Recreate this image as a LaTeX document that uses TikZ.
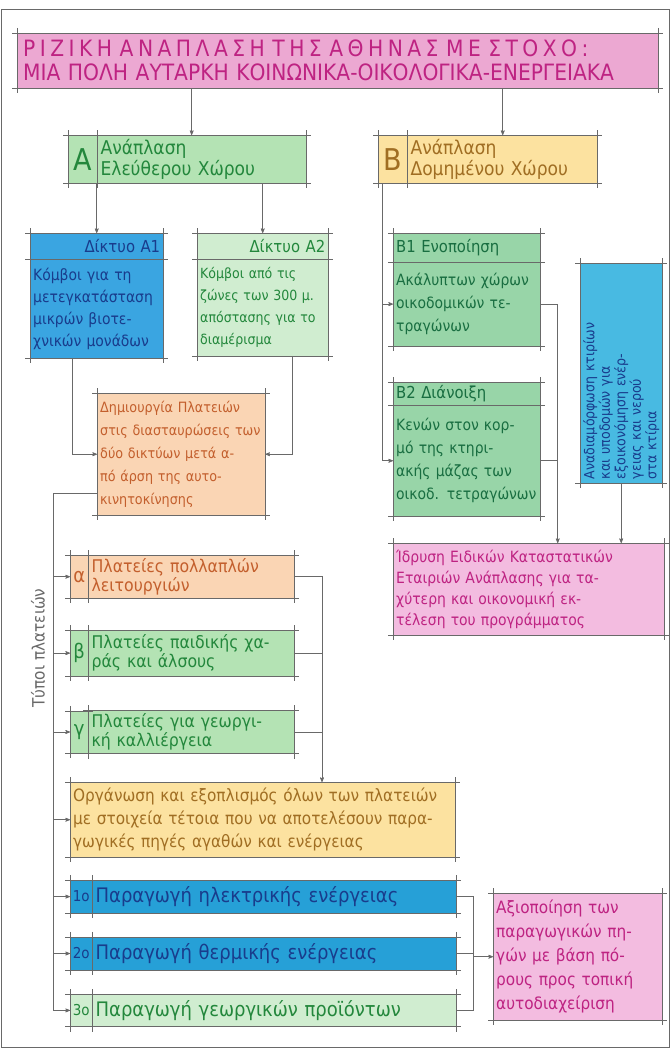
\documentclass[tikz,border=0pt]{standalone}
\usepackage{fontspec}
\setmainfont{DejaVu Sans Condensed}
\usetikzlibrary{arrows,positioning,calc}
\definecolor{linegray}{RGB}{105,105,105}
\definecolor{pinkfill}{RGB}{236,168,210}
\definecolor{lightpink}{RGB}{243,188,224}
\definecolor{pinktext}{RGB}{190,35,130}
\definecolor{greenfill}{RGB}{180,227,180}
\definecolor{palegreen}{RGB}{208,237,208}
\definecolor{greentext}{RGB}{35,135,60}
\definecolor{bgreenfill}{RGB}{152,213,168}
\definecolor{bgreentext}{RGB}{25,110,65}
\definecolor{bluefill}{RGB}{58,165,225}
\definecolor{bluetext}{RGB}{25,60,140}
\definecolor{vbluefill}{RGB}{72,186,226}
\definecolor{orangefill}{RGB}{250,213,180}
\definecolor{orangetext}{RGB}{195,95,45}
\definecolor{yellowfill}{RGB}{252,226,160}
\definecolor{yellowtext}{RGB}{160,110,35}
\definecolor{stripblue}{RGB}{38,160,215}
\definecolor{stripgreen}{RGB}{196,232,196}
\tikzset{
    %Define standard arrow tip
    >=stealth',
    %Define style for boxes
    sk/.style={
           rectangle,
           inner sep=3pt,
           align=left,
           anchor=north west},
    pinkbox/.style={sk, fill=pinkfill, text=pinktext},
    lpinkbox/.style={sk, fill=lightpink, text=pinktext},
    greenbox/.style={sk, fill=greenfill, text=greentext},
    palebox/.style={sk, fill=palegreen, text=greentext},
    bgreenbox/.style={sk, fill=bgreenfill, text=bgreentext},
    bluebox/.style={sk, fill=bluefill, text=bluetext},
    orangebox/.style={sk, fill=orangefill, text=orangetext},
    yellowbox/.style={sk, fill=yellowfill, text=yellowtext},
    stripbox/.style={sk, fill=stripblue, text=bluetext},
    letterbox/.style={align=center},
    % Define arrow style
    conn/.style={draw=linegray, line width=0.7pt},
    pil/.style={->, conn},
    skline/.style={draw=linegray, line width=0.6pt}
}
\newcommand{\skframe}[1]{%
  \draw[skline] ([xshift=-5pt]#1.north west) -- ([xshift=5pt]#1.north east);
  \draw[skline] ([xshift=-5pt]#1.south west) -- ([xshift=5pt]#1.south east);
  \draw[skline] ([yshift=5pt]#1.north west) -- ([yshift=-5pt]#1.south west);
  \draw[skline] ([yshift=5pt]#1.north east) -- ([yshift=-5pt]#1.south east);}
\newcommand{\fs}[2]{\fontsize{#1}{#2}\selectfont}

\begin{document}
\begin{tikzpicture}[x=1pt,y=-1pt]
\useasboundingbox (0,0) rectangle (671,1049);
\draw[linegray, line width=0.8pt] (1,9) rectangle (669,1047);

% top
\node[pinkbox, text width=629pt, inner xsep=6pt, minimum height=55pt, font=\fs{22.5}{24}] (title) at (17,33)
  {{\addfontfeature{LetterSpace=20}ΡΙΖΙΚΗ ΑΝΑΠΛΑΣΗ ΤΗΣ ΑΘΗΝΑΣ ΜΕ ΣΤΟΧΟ:}\\ΜΙΑ ΠΟΛΗ ΑΥΤΑΡΚΗ ΚΟΙΝΩΝΙΚΑ-ΟΙΚΟΛΟΓΙΚΑ-ΕΝΕΡΓΕΙΑΚΑ};
\node[greenbox, letterbox, text width=23pt, minimum height=48pt, font=\fs{30}{30}] (Alet) at (68,135) {A};
\node[greenbox, text width=202pt, minimum height=48pt, font=\fs{19}{21}, right=0pt of Alet] (Atxt) {Ανάπλαση\\Ελεύθερου Χώρου};
\node[yellowbox, letterbox, text width=23pt, minimum height=48pt, font=\fs{30}{30}] (Blet) at (378,135) {B};
\node[yellowbox, text width=183pt, minimum height=48pt, font=\fs{19}{21}, right=0pt of Blet] (Btxt) {Ανάπλαση\\Δομημένου Χώρου};

% left column
\node[bluebox, align=right, text width=127pt, minimum height=26pt, font=\fs{16.5}{18}] (A1h) at (30,233) {Δίκτυο Α1};
\node[bluebox, text width=127pt, minimum height=98pt, font=\fs{15.5}{22}, below=0pt of A1h] (A1b)
  {Κόμβοι για τη\\μετεγκατάσταση\\μικρών βιοτε-\\χνικών μονάδων};
\node[palebox, align=right, text width=125pt, minimum height=26pt, font=\fs{16.5}{18}] (A2h) at (197,233) {Δίκτυο Α2};
\node[palebox, text width=125pt, minimum height=96pt, font=\fs{14}{22}, below=0pt of A2h] (A2b)
  {Κόμβοι από τις\\ζώνες των 300 μ.\\απόστασης για το\\διαμέρισμα};
\node[orangebox, text width=162pt, minimum height=122pt, font=\fs{14.2}{23}] (plat) at (97,393)
  {Δημιουργία Πλατειών\\στις διασταυρώσεις των\\δύο δικτύων μετά α-\\πό άρση της αυτο-\\κινητοκίνησης};

% right column
\node[bgreenbox, text width=141pt, minimum height=29pt, font=\fs{16.5}{18}] (B1h) at (393,233) {Β1 Ενοποίηση};
\node[bgreenbox, text width=141pt, minimum height=83pt, font=\fs{15.5}{23}, below=0pt of B1h] (B1b)
  {Ακάλυπτων χώρων\\οικοδομικών τε-\\τραγώνων};
\node[bgreenbox, text width=141pt, minimum height=22pt, font=\fs{16.5}{18}] (B2h) at (393,382) {Β2 Διάνοιξη};
\node[bgreenbox, text width=141pt, minimum height=111pt, font=\fs{15.5}{23}, below=0pt of B2h] (B2b)
  {Κενών στον κορ-\\μό της κτηρι-\\ακής μάζας των\\οικοδ. τετραγώνων};
\node[sk, fill=vbluefill, minimum width=82pt, minimum height=220pt] (vblue) at (580,263) {};
\node[rotate=90, text=bluetext, align=left, text width=212pt, font=\fs{14}{15.5}] (vtext) at (vblue.center)
  {Αναδιαμόρφωση κτιρίων\\και υποδομών για\\εξοικονόμηση ενέρ-\\γειας και νερού\\στα κτίρια};
\node[lpinkbox, text width=265pt, minimum height=92pt, font=\fs{15.5}{21}] (ispr) at (393,543)
  {Ίδρυση Ειδικών Καταστατικών\\Εταιριών Ανάπλασης για τα-\\χύτερη και οικονομική εκ-\\τέλεση του προγράμματος};

% types of squares
\node[orangebox, letterbox, inner xsep=1pt, text width=16pt, minimum height=43pt, font=\fs{20}{20}] (pa) at (70,555) {α};
\node[orangebox, text width=199pt, minimum height=43pt, font=\fs{17.5}{19}, right=0pt of pa] (patx) {Πλατείες πολλαπλών\\λειτουργιών};
\node[greenbox, letterbox, inner xsep=1pt, text width=16pt, minimum height=45pt, font=\fs{20}{20}, below=32pt of pa] (pb) {β};
\node[greenbox, text width=199pt, minimum height=45pt, font=\fs{17.5}{19}, right=0pt of pb] (pbtx) {Πλατείες παιδικής χα-\\ράς και άλσους};
\node[greenbox, letterbox, inner xsep=1pt, text width=16pt, minimum height=42pt, font=\fs{20}{20}, below=35pt of pb] (pg) {γ};
\node[greenbox, text width=199pt, minimum height=42pt, font=\fs{17.5}{19}, right=0pt of pg] (pgtx) {Πλατείες για γεωργι-\\κή καλλιέργεια};
\node[rotate=90, text=linegray, font=\fs{17}{18}] (typoi) at (38,648) {Τύποι πλατειών};

% bottom
\node[yellowbox, text width=379pt, minimum height=75pt, font=\fs{17}{23}] (org) at (70,782)
  {Οργάνωση και εξοπλισμός όλων των πλατειών\\με στοιχεία τέτοια που να αποτελέσουν παρα-\\γωγικές πηγές αγαθών και ενέργειας};
\node[stripbox, letterbox, inner xsep=1pt, text width=20pt, minimum height=32pt, font=\fs{15}{16}, below=23pt of org.south west, anchor=north west] (s1l) {1ο};
\node[stripbox, text width=357pt, minimum height=32pt, font=\fs{20}{21}, right=0pt of s1l] (s1t) {Παραγωγή ηλεκτρικής ενέργειας};
\node[stripbox, letterbox, inner xsep=1pt, text width=20pt, minimum height=33pt, font=\fs{15}{16}, below=24pt of s1l] (s2l) {2ο};
\node[stripbox, text width=357pt, minimum height=33pt, font=\fs{20}{21}, right=0pt of s2l] (s2t) {Παραγωγή θερμικής ενέργειας};
\node[palebox, letterbox, inner xsep=1pt, text width=20pt, minimum height=32pt, font=\fs{15}{16}, below=24pt of s2l] (s3l) {3ο};
\node[palebox, text width=357pt, minimum height=32pt, font=\fs{20}{21}, right=0pt of s3l] (s3t) {Παραγωγή γεωργικών προϊόντων};
\node[lpinkbox, text width=163pt, minimum height=127pt, font=\fs{17}{24}] (axi) at (493,893)
  {Αξιοποίηση των\\παραγωγικών πη-\\γών με βάση πό-\\ρους προς τοπική\\αυτοδιαχείριση};

% sketchy outlines
\foreach \n in {title,Alet,Atxt,Blet,Btxt,A1h,A1b,A2h,A2b,plat,B1h,B1b,B2h,B2b,vblue,ispr,
                pa,patx,pb,pbtx,pg,pgtx,org,s1l,s1t,s2l,s2t,s3l,s3t,axi}
  {\skframe{\n}}

% connectors
\coordinate (Amid) at ($(Alet.north west)!0.52!(Atxt.north east)$);
\coordinate (Bmid) at ($(Blet.north west)!0.57!(Btxt.north east)$);
\draw[pil] (title.south -| Amid) -- (Amid);
\draw[pil] (title.south -| Bmid) -- (Bmid);
\draw[pil] (A1h.north |- Atxt.south) -- (A1h.north);
\draw[pil] (A2h.north |- Atxt.south) -- (A2h.north);
\draw[pil] ([xshift=-24pt]A1b.south) |- (plat.west);
\draw[pil] ([xshift=30pt]A2b.south) |- (plat.east);

\draw[pil] ([xshift=4pt]Blet.south west) |- (B1b.west);
\draw[pil] ([xshift=4pt]Blet.south west) |- (B2b.west);
\draw[pil] (B1b.east) -| ([xshift=29pt]ispr.north);
\draw[conn] (B2b.east) -- ([xshift=29pt]ispr.north |- B2b.east);
\draw[pil] (vblue.south) -- (vblue.south |- ispr.north);

\coordinate (trunk) at (53,493);
\draw[conn] (plat.west |- trunk) -- (trunk) -- (trunk |- s3l.west);
\foreach \n in {pa,pb,pg,org,s1l,s2l,s3l}
  \draw[pil] (trunk |- \n.west) -- (\n.west);

\coordinate (colr) at (322,576);
\draw[pil] (patx.east) -| (colr |- org.north);
\draw[conn] (pbtx.east) -- (pbtx.east -| colr);
\draw[conn] (pgtx.east) -- (pgtx.east -| colr);

\coordinate (cols) at (473,896);
\draw[conn] (s1t.east) -| (cols |- s3t.east) -- (s3t.east);
\draw[conn] (s2t.east) -- (s2t.east -| cols);
\draw[pil] (cols |- axi.west) -- (axi.west);
\end{tikzpicture}
\end{document}
